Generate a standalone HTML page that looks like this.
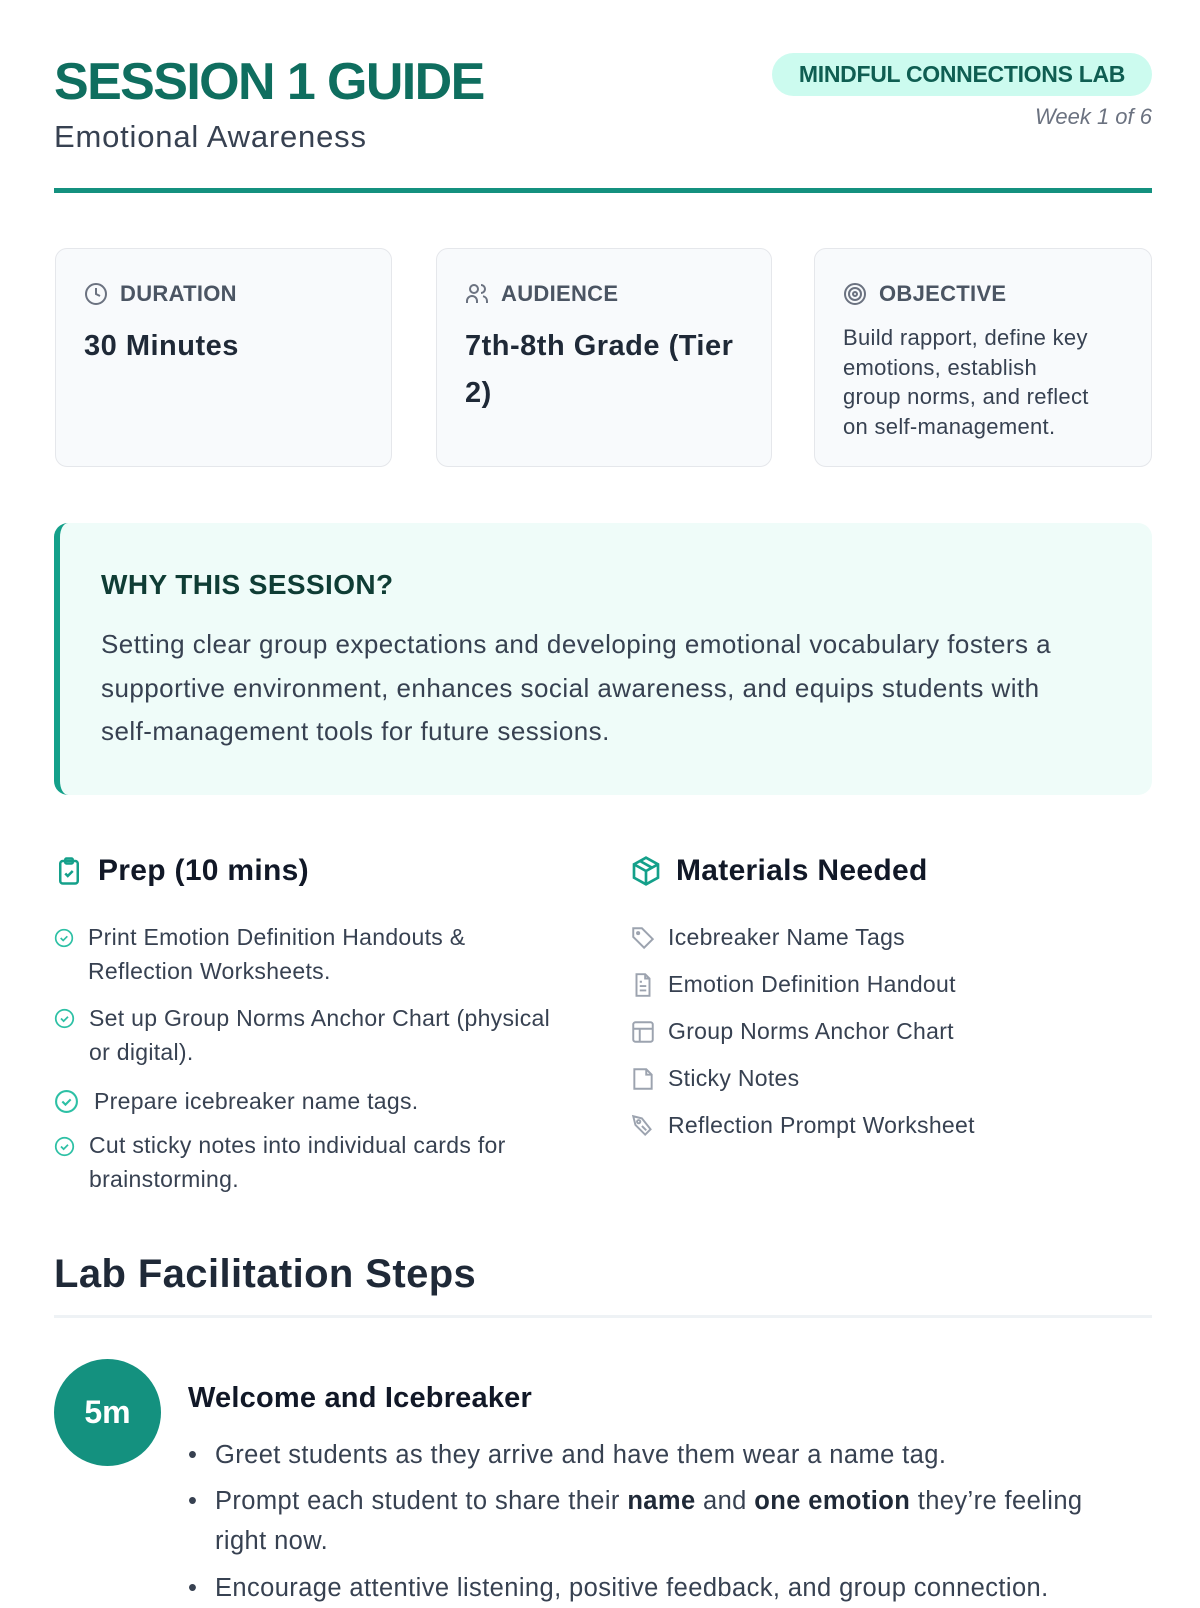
<!DOCTYPE html>
<html><head><meta charset="utf-8"><style>
*{margin:0;padding:0;box-sizing:border-box}
body{width:1200px;height:1600px;background:#fff;font-family:"Liberation Sans",sans-serif;color:#1f2937;position:relative;overflow:hidden}
.a{position:absolute}
.title{left:54px;top:52px;font-size:52px;font-weight:bold;color:#0f6e5f;letter-spacing:-1.6px}
.sub{left:54px;top:119px;font-size:31px;color:#374151;letter-spacing:0.8px}
.badge{left:772px;top:53px;width:380px;height:43px;border-radius:22px;background:#ccfbef;color:#0f5e52;font-weight:bold;font-size:23px;text-align:center;line-height:43px;letter-spacing:-0.3px}
.week{right:48px;top:104px;font-size:22px;font-style:italic;color:#6b7280}
.rule{left:54px;top:188px;width:1098px;height:5px;background:#14917f}
.card{top:248px;height:219px;background:#f8fafc;border:1.5px solid #e5e7eb;border-radius:12px}
.lab{position:absolute;left:28px;top:32px;font-size:22px;font-weight:bold;color:#4b5563;display:flex;align-items:center;gap:12px;letter-spacing:0.3px}
.val{position:absolute;left:28px;top:74px;font-size:29px;font-weight:bold;color:#1f2937;line-height:47px;width:300px;letter-spacing:0.5px}
.obj{position:absolute;left:28px;top:74px;font-size:22px;color:#374151;line-height:29.5px;white-space:nowrap;letter-spacing:0.3px}
.why{left:54px;top:523px;width:1098px;height:272px;background:#effcf9;border-left:6px solid #14a08a;border-radius:14px}
.why h3{position:absolute;left:41px;top:46px;font-size:28px;color:#0f3d35;font-weight:bold;letter-spacing:0.4px}
.why p{position:absolute;left:41px;top:100px;white-space:nowrap;font-size:26px;line-height:43.5px;color:#374151;letter-spacing:0.45px}
.h2{font-size:30px;font-weight:bold;color:#111827;display:flex;align-items:center;gap:14px;letter-spacing:0.3px}
.li{font-size:23px;color:#374151;line-height:34px;letter-spacing:0.3px;white-space:nowrap}
.mi{font-size:23px;color:#374151;display:flex;align-items:center;gap:12px;letter-spacing:0.3px}
.lh{left:54px;top:1252px;font-size:40px;font-weight:bold;color:#1f2937;letter-spacing:0.4px}
.div{left:54px;top:1315px;width:1098px;height:3px;background:#eef2f5}
.circ{left:54px;top:1359px;width:107px;height:107px;border-radius:50%;background:#14917f;color:#fff;font-size:32px;font-weight:bold;text-align:center;line-height:107px}
.wt{left:188px;top:1382px;font-size:29px;font-weight:bold;color:#111827;letter-spacing:0.2px}
.bl{left:188px;width:990px;font-size:25.5px;color:#374151;line-height:40px;letter-spacing:0.4px;white-space:nowrap}
.bl span.d{position:absolute;left:0;top:0}
.bl div{padding-left:27px}
</style></head><body>
<div class="a title">SESSION 1 GUIDE</div>
<div class="a sub">Emotional Awareness</div>
<div class="a badge">MINDFUL CONNECTIONS LAB</div>
<div class="a week">Week 1 of 6</div>
<div class="a rule"></div>

<div class="a card" style="left:55px;width:337px">
<div class="lab"><svg width="24" height="24" viewBox="0 0 24 24" fill="none" stroke="#6b7280" stroke-width="2"><circle cx="12" cy="12" r="10"/><path d="M12 6v6l4 2"/></svg>DURATION</div>
<div class="val">30 Minutes</div></div>
<div class="a card" style="left:436px;width:336px">
<div class="lab"><svg width="24" height="24" viewBox="0 0 24 24" fill="none" stroke="#6b7280" stroke-width="2"><circle cx="9" cy="7" r="4"/><path d="M2 21v-2a5 5 0 0 1 10 0v2M16 3a4 4 0 0 1 0 8M22 21v-2a5 5 0 0 0-4-4.8"/></svg>AUDIENCE</div>
<div class="val">7th-8th Grade (Tier 2)</div></div>
<div class="a card" style="left:814px;width:338px">
<div class="lab"><svg width="24" height="24" viewBox="0 0 24 24" fill="none" stroke="#6b7280" stroke-width="2"><circle cx="12" cy="12" r="10"/><circle cx="12" cy="12" r="6"/><circle cx="12" cy="12" r="2"/></svg>OBJECTIVE</div>
<div class="obj">Build rapport, define key<br>emotions, establish<br>group norms, and reflect<br>on self-management.</div></div>

<div class="a why"><h3>WHY THIS SESSION?</h3>
<p>Setting clear group expectations and developing emotional vocabulary fosters a<br>supportive environment, enhances social awareness, and equips students with<br>self-management tools for future sessions.</p></div>

<div class="a h2" style="left:54px;top:854px"><svg width="30" height="34" viewBox="0 0 24 24" fill="none" stroke="#14a08a" stroke-width="2"><rect x="5" y="4" width="14" height="18" rx="2"/><rect x="9" y="2" width="6" height="4" rx="1"/><path d="M9 14l2 2 4-4"/></svg>Prep (10 mins)</div>
<div class="a h2" style="left:630px;top:854px"><svg width="32" height="34" viewBox="0 0 24 24" fill="none" stroke="#14a08a" stroke-width="2"><path d="M12 2l9 5v10l-9 5-9-5V7z"/><path d="M3 7l9 5 9-5M12 12v10M7.5 4.5l9 5"/></svg>Materials Needed</div>

<svg class="a" style="left:54px;top:928px" width="20" height="20" viewBox="0 0 24 24" fill="none" stroke="#2dc0a5" stroke-width="2"><circle cx="12" cy="12" r="10"/><path d="M8 12l3 3 5-5"/></svg>
<div class="a li" style="left:88px;top:920px">Print Emotion Definition Handouts &amp;<br>Reflection Worksheets.</div>
<svg class="a" style="left:54px;top:1008px" width="21" height="21" viewBox="0 0 24 24" fill="none" stroke="#2dc0a5" stroke-width="2"><circle cx="12" cy="12" r="10"/><path d="M8 12l3 3 5-5"/></svg>
<div class="a li" style="left:89px;top:1001px">Set up Group Norms Anchor Chart (physical<br>or digital).</div>
<svg class="a" style="left:54px;top:1089px" width="25" height="25" viewBox="0 0 24 24" fill="none" stroke="#2dc0a5" stroke-width="2"><circle cx="12" cy="12" r="10"/><path d="M8 12l3 3 5-5"/></svg>
<div class="a li" style="left:94px;top:1084px">Prepare icebreaker name tags.</div>
<svg class="a" style="left:54px;top:1136px" width="21" height="21" viewBox="0 0 24 24" fill="none" stroke="#2dc0a5" stroke-width="2"><circle cx="12" cy="12" r="10"/><path d="M8 12l3 3 5-5"/></svg>
<div class="a li" style="left:89px;top:1128px">Cut sticky notes into individual cards for<br>brainstorming.</div>

<div class="a mi" style="left:630px;top:924px"><svg width="26" height="26" viewBox="0 0 24 24" fill="none" stroke="#9ca3af" stroke-width="1.8"><path d="M3 3h8l10 10-8 8L3 11z"/><circle cx="7.5" cy="7.5" r="1"/></svg>Icebreaker Name Tags</div>
<div class="a mi" style="left:630px;top:971px"><svg width="26" height="26" viewBox="0 0 24 24" fill="none" stroke="#9ca3af" stroke-width="1.8"><path d="M14 2H6v20h12V6z"/><path d="M14 2v4h4M9 13h6M9 17h6M9 9h2"/></svg>Emotion Definition Handout</div>
<div class="a mi" style="left:630px;top:1018px"><svg width="26" height="26" viewBox="0 0 24 24" fill="none" stroke="#9ca3af" stroke-width="1.8"><rect x="3" y="3" width="18" height="18" rx="2"/><path d="M3 9h18M9 21V9"/></svg>Group Norms Anchor Chart</div>
<div class="a mi" style="left:630px;top:1065px"><svg width="26" height="26" viewBox="0 0 24 24" fill="none" stroke="#9ca3af" stroke-width="1.8"><path d="M4 3h11l5 5v13H4z"/><path d="M15 3v5h5"/></svg>Sticky Notes</div>
<div class="a mi" style="left:630px;top:1112px"><svg width="26" height="26" viewBox="0 0 24 24" fill="none" stroke="#9ca3af" stroke-width="1.8"><path d="M3 3l8 2 8 10-5 5L5 11z"/><circle cx="8" cy="8" r="1.5"/><path d="M11 12l4 4"/></svg>Reflection Prompt Worksheet</div>

<div class="a lh">Lab Facilitation Steps</div>
<div class="a div"></div>
<div class="a circ">5m</div>
<div class="a wt">Welcome and Icebreaker</div>
<div class="a bl" style="top:1435px"><span class="d">•</span><div>Greet students as they arrive and have them wear a name tag.</div></div>
<div class="a bl" style="top:1481px"><span class="d">•</span><div>Prompt each student to share their <b style="color:#1f2937">name</b> and <b style="color:#1f2937">one emotion</b> they’re feeling<br>right now.</div></div>
<div class="a bl" style="top:1568px"><span class="d">•</span><div>Encourage attentive listening, positive feedback, and group connection.</div></div>
</body></html>
